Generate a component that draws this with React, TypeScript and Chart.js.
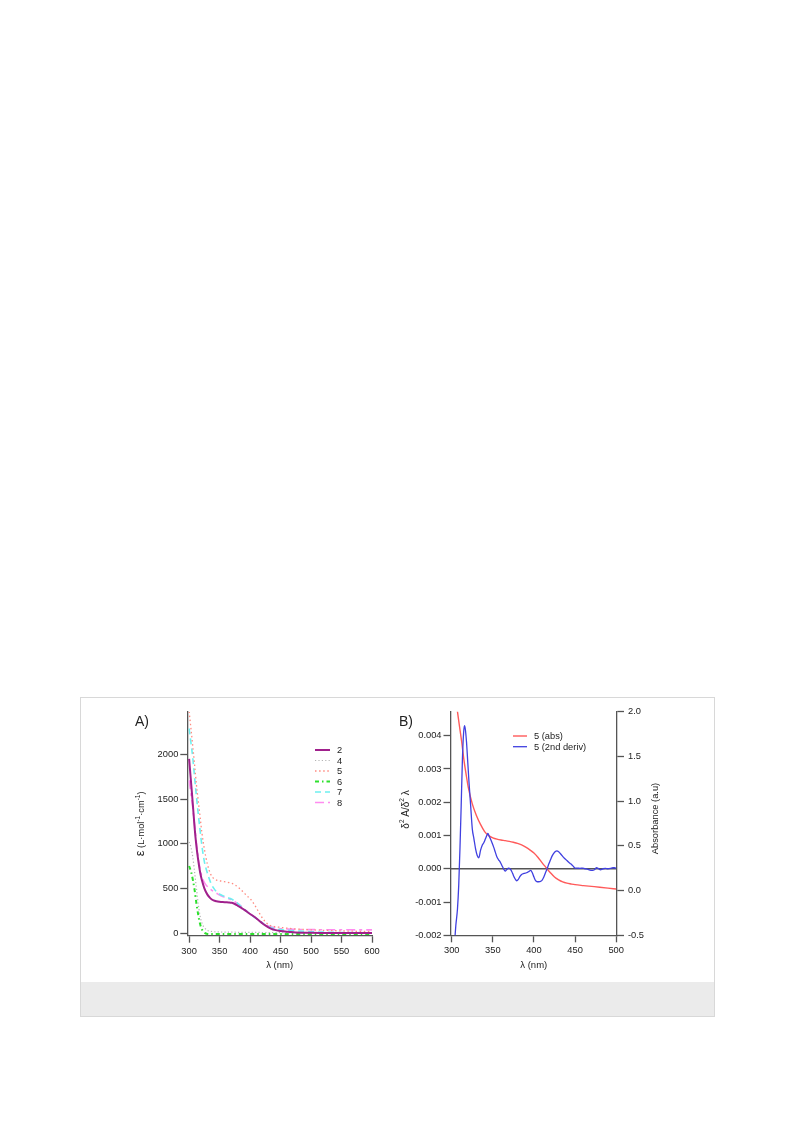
import React, { useEffect, useRef } from 'react';
import { Chart, registerables } from 'chart.js';

Chart.register(...registerables);

const FONT = "'Liberation Sans', Arial, Helvetica, sans-serif";

// ---------- Panel A data ----------
const wavelengthA = [300, 303, 306, 309, 312, 315, 318, 321, 325, 330, 335, 340, 345, 350, 355, 360, 365, 370, 375, 380, 385, 390, 395, 400, 405, 410, 415, 420, 425, 430, 435, 440, 450, 460, 475, 500, 530, 560, 600];
const eps2 = [1950, 1700, 1450, 1180, 970, 810, 680, 590, 500, 430, 388, 365, 355, 350, 347, 345, 343, 338, 325, 305, 285, 262, 238, 213, 190, 165, 138, 110, 86, 64, 47, 35, 22, 14, 7, 2, 0, 0, 0];
const eps4 = [1020, 960, 850, 680, 500, 320, 190, 110, 60, 30, 20, 15, 13, 12, 11, 10, 10, 9, 9, 8, 8, 8, 8, 8, 7, 7, 7, 6, 6, 6, 6, 5, 5, 5, 4, 4, 3, 3, 3];
const eps5 = [2480, 2290, 2090, 1880, 1660, 1480, 1300, 1120, 940, 770, 665, 612, 592, 585, 578, 572, 565, 555, 540, 515, 485, 450, 415, 385, 340, 285, 225, 170, 125, 95, 80, 72, 63, 55, 45, 36, 28, 22, 16];
const eps6 = [750, 690, 600, 480, 330, 200, 100, 40, 5, -10, -12, -12, -12, -12, -12, -12, -12, -12, -12, -12, -12, -12, -12, -12, -12, -12, -12, -12, -12, -12, -12, -11, -11, -11, -11, -10, -10, -10, -10];
const eps7 = [2290, 2130, 1960, 1740, 1530, 1330, 1150, 975, 800, 670, 570, 505, 462, 435, 418, 405, 392, 378, 358, 330, 300, 268, 240, 213, 188, 163, 138, 112, 90, 72, 58, 48, 38, 32, 25, 15, 8, 5, 3];
const eps8 = [1710, 1560, 1400, 1210, 1010, 840, 720, 630, 565, 520, 490, 465, 445, 425, 410, 395, 383, 370, 352, 328, 300, 270, 242, 215, 190, 165, 140, 115, 95, 78, 66, 58, 48, 45, 41, 38, 37, 36, 35];
const seriesLabelsA = ['2', '4', '5', '6', '7', '8'];
const xTicksA = [300, 350, 400, 450, 500, 550, 600];
const yTicksA = [0, 500, 1000, 1500, 2000];

// ---------- Panel B data ----------
const wavelengthAbs = [305, 308, 310, 312, 315, 318, 320, 325, 330, 335, 340, 345, 350, 355, 360, 365, 370, 375, 380, 385, 390, 395, 400, 405, 410, 415, 420, 425, 430, 435, 440, 445, 450, 460, 470, 480, 490, 500];
const abs5 = [2.14, 1.93, 1.8, 1.67, 1.45, 1.27, 1.16, 0.97, 0.84, 0.74, 0.66, 0.615, 0.59, 0.575, 0.565, 0.558, 0.55, 0.54, 0.528, 0.51, 0.485, 0.455, 0.42, 0.37, 0.31, 0.255, 0.2, 0.152, 0.12, 0.097, 0.083, 0.074, 0.066, 0.056, 0.047, 0.038, 0.028, 0.017];
const wavelengthDeriv = [303.5, 305, 307, 308.5, 310, 311.5, 313, 314.5, 315.5, 316.5, 318, 319.5, 321, 323, 325, 327, 329, 331, 333, 335, 337, 339, 341, 343, 344, 345.5, 347, 349, 351, 353, 355, 357, 359, 361, 363, 365, 367, 369, 371, 373, 375, 377, 379, 381, 383, 385, 388, 391, 394, 396, 398, 400, 402, 404, 406, 408, 410, 412, 414, 416, 418, 420, 422, 424, 426, 428, 430, 432, 434, 436, 438, 440, 442, 444, 446, 448, 450, 453, 456, 459, 462, 465, 468, 471, 474, 476, 478, 481, 484, 487, 490, 493, 496, 498, 500];
const deriv5 = [-0.0022, -0.0017, -0.0012, -0.0005, 0.0006, 0.0019, 0.0033, 0.0041, 0.0043, 0.0042, 0.0038, 0.0032, 0.0026, 0.0019, 0.0012, 0.0009, 0.0006, 0.0004, 0.00033, 0.00055, 0.0007, 0.00078, 0.0009, 0.00102, 0.00106, 0.00098, 0.0009, 0.00078, 0.00065, 0.0005, 0.00035, 0.00027, 0.0002, 0.0001, 0.0, -0.00007, -0.00002, 0.00002, 0.0, -0.00008, -0.0002, -0.0003, -0.00036, -0.00032, -0.00023, -0.00017, -0.00014, -0.00012, -0.00008, -0.00005, -0.00012, -0.00025, -0.00036, -0.00039, -0.00039, -0.00038, -0.00034, -0.00025, -0.00012, 0.0, 0.00014, 0.00026, 0.00038, 0.00046, 0.00052, 0.00054, 0.00051, 0.00046, 0.0004, 0.00034, 0.00029, 0.00025, 0.0002, 0.00016, 0.00012, 0.00007, 0.00002, 0.00002, 0.00001, 0.00002, 0.0, -0.00001, -0.00004, -0.00005, -0.00002, 0.00003, 0.00001, -0.00003, 0.0, 0.00001, 0.0, 0.00001, 0.00003, 0.00003, 0.00001];
const seriesLabelsB = ['5 (abs)', '5 (2nd deriv)'];
const xTicksB = [300, 350, 400, 450, 500];
const yTicksBLeft = [-0.002, -0.001, 0, 0.001, 0.002, 0.003, 0.004];
const yTicksBRight = [-0.5, 0, 0.5, 1, 1.5, 2];

// ---------- helpers ----------
type Seg = { t: string; size: number; dy?: number };

function drawRich(ctx: CanvasRenderingContext2D, segs: Seg[], cx: number, cy: number, rot: number, base: number) {
  ctx.save();
  ctx.translate(cx, cy);
  ctx.rotate(rot);
  ctx.textAlign = 'left';
  ctx.textBaseline = 'alphabetic';
  ctx.fillStyle = '#222';
  let total = 0;
  const widths = segs.map((s) => {
    ctx.font = `${s.size}px ${FONT}`;
    const w = ctx.measureText(s.t).width;
    total += w;
    return w;
  });
  let x = -total / 2;
  segs.forEach((s, i) => {
    ctx.font = `${s.size}px ${FONT}`;
    ctx.fillText(s.t, x, base + (s.dy || 0));
    x += widths[i];
  });
  ctx.restore();
}

const axisColor = '#555';

function axisStyle(extra: any) {
  return {
    type: 'linear',
    border: { display: true, color: axisColor, width: 1.3 },
    grid: { display: true, drawOnChartArea: false, drawTicks: true, tickLength: 7, tickColor: axisColor, tickWidth: 1.3 },
    ...extra,
  };
}

function tickFont() {
  return { family: FONT, size: 9.3 };
}

function legendPlugin(labels: string[], x0: number, x1: number, xt: number, top: number, gap: number) {
  return {
    id: 'customLegend',
    afterDatasetsDraw(chart: any) {
      const ctx = chart.ctx as CanvasRenderingContext2D;
      const area = chart.chartArea;
      labels.forEach((lab, i) => {
        const ds = chart.data.datasets[i];
        const y = area.top + top + i * gap;
        ctx.save();
        ctx.strokeStyle = ds.borderColor;
        ctx.lineWidth = ds.borderWidth;
        ctx.setLineDash(ds.borderDash || []);
        ctx.beginPath();
        ctx.moveTo(area.right - x0, y);
        ctx.lineTo(area.right - x1, y);
        ctx.stroke();
        ctx.setLineDash([]);
        ctx.fillStyle = '#222';
        ctx.font = `9.3px ${FONT}`;
        ctx.textAlign = 'left';
        ctx.textBaseline = 'middle';
        ctx.fillText(lab, area.right - xt, y + 0.5);
        ctx.restore();
      });
    },
  };
}

function fixedTicks(values: number[]) {
  return (scale: any) => {
    scale.ticks = values.map((v) => ({ value: v }));
  };
}

// ---------- Panel A ----------
function PanelA() {
  const ref = useRef<HTMLCanvasElement>(null);
  useEffect(() => {
    const mk = (lab: string, vals: number[], color: string, width: number, dash: number[]) => ({
      label: lab,
      data: wavelengthA.map((w, i) => ({ x: w, y: vals[i] })),
      borderColor: color,
      borderWidth: width,
      borderDash: dash,
      pointRadius: 0,
      fill: false,
      cubicInterpolationMode: 'monotone',
      clip: 0,
    });
    const datasets = [
      mk(seriesLabelsA[0], eps2, '#a0208c', 2, []),
      mk(seriesLabelsA[1], eps4, '#b4b4b4', 1.2, [1.2, 2.2]),
      mk(seriesLabelsA[2], eps5, '#ff8a80', 1.3, [1.5, 2.6]),
      mk(seriesLabelsA[3], eps6, '#2ee02e', 2, [4, 3, 1.5, 3]),
      mk(seriesLabelsA[4], eps7, '#6ef0f0', 1.6, [6, 4]),
      mk(seriesLabelsA[5], eps8, '#ff8cf0', 1.6, [9, 4, 3, 4]),
    ];
    const titles = {
      id: 'titlesA',
      afterDraw(chart: any) {
        const ctx = chart.ctx;
        const a = chart.chartArea;
        drawRich(ctx, [
          { t: 'ε', size: 13 },
          { t: ' (L·mol', size: 9.3 },
          { t: '-1', size: 6.5, dy: -4 },
          { t: '·cm', size: 9.3 },
          { t: '-1', size: 6.5, dy: -4 },
          { t: ')', size: 9.3 },
        ], a.left - 47, (a.top + a.bottom) / 2, -Math.PI / 2, 3.5);
        drawRich(ctx, [{ t: 'λ (nm)', size: 9.5 }], (a.left + a.right) / 2, a.bottom + 29, 0, 3.5);
      },
    };
    const chart = new Chart(ref.current!, {
      type: 'line',
      data: { datasets: datasets as any },
      options: {
        responsive: false,
        animation: false,
        events: [],
        layout: { padding: { top: 12, right: 18, left: 0, bottom: 0 } },
        plugins: { legend: { display: false }, tooltip: { enabled: false } },
        scales: {
          x: axisStyle({
            position: 'bottom',
            min: 297,
            max: 600,
            afterBuildTicks: fixedTicks(xTicksA),
            afterFit: (s: any) => { s.height = 44.3; },
            ticks: { color: '#222', font: tickFont(), padding: 3, maxRotation: 0, autoSkip: false, callback: (v: any) => String(v) },
          }),
          y: axisStyle({
            position: 'left',
            min: -30,
            max: 2475,
            afterBuildTicks: fixedTicks(yTicksA),
            afterFit: (s: any) => { s.width = 67.3; },
            ticks: { color: '#222', font: tickFont(), padding: 2, autoSkip: false, callback: (v: any) => String(v) },
          }),
        } as any,
      },
      plugins: [legendPlugin(seriesLabelsA, 57, 42, 35, 38, 10.5), titles],
    });
    return () => chart.destroy();
  }, []);
  return <canvas ref={ref} width={270} height={280} style={{ position: 'absolute', left: 120, top: 700, width: 270, height: 280 }} />;
}

// ---------- Panel B ----------
function PanelB() {
  const ref = useRef<HTMLCanvasElement>(null);
  useEffect(() => {
    const datasets = [
      {
        label: seriesLabelsB[0],
        data: wavelengthAbs.map((w, i) => ({ x: w, y: abs5[i] })),
        yAxisID: 'y2',
        borderColor: '#ff5a5a',
        borderWidth: 1.4,
        borderDash: [],
        pointRadius: 0,
        fill: false,
        cubicInterpolationMode: 'monotone',
        clip: 0,
        order: 2,
      },
      {
        label: seriesLabelsB[1],
        data: wavelengthDeriv.map((w, i) => ({ x: w, y: deriv5[i] })),
        yAxisID: 'y',
        borderColor: '#4040e0',
        borderWidth: 1.3,
        borderDash: [],
        pointRadius: 0,
        fill: false,
        cubicInterpolationMode: 'monotone',
        clip: 0,
        order: 1,
      },
    ];
    const extras = {
      id: 'extrasB',
      beforeDatasetsDraw(chart: any) {
        const ctx = chart.ctx;
        const a = chart.chartArea;
        const y0 = chart.scales.y.getPixelForValue(0);
        ctx.save();
        ctx.strokeStyle = '#555';
        ctx.lineWidth = 1.5;
        ctx.beginPath();
        ctx.moveTo(a.left, y0);
        ctx.lineTo(a.right, y0);
        ctx.stroke();
        ctx.restore();
      },
      afterDraw(chart: any) {
        const ctx = chart.ctx;
        const a = chart.chartArea;
        drawRich(ctx, [
          { t: 'δ', size: 10 },
          { t: '2', size: 6.5, dy: -4.5 },
          { t: ' A/δ', size: 10 },
          { t: '2', size: 6.5, dy: -4.5 },
          { t: ' λ', size: 10 },
        ], a.left - 45.5, (a.top + a.bottom) / 2 - 14, -Math.PI / 2, 3.6);
        drawRich(ctx, [{ t: 'Absorbance (a.u)', size: 9.3 }], a.right + 38, (a.top + a.bottom) / 2 - 5, -Math.PI / 2, 3.4);
        drawRich(ctx, [{ t: 'λ (nm)', size: 9.5 }], (a.left + a.right) / 2, a.bottom + 29, 0, 3.5);
      },
    };
    const chart = new Chart(ref.current!, {
      type: 'line',
      data: { datasets: datasets as any },
      options: {
        responsive: false,
        animation: false,
        events: [],
        layout: { padding: { top: 11.7, right: 0, left: 0, bottom: 0 } },
        plugins: { legend: { display: false }, tooltip: { enabled: false } },
        scales: {
          x: axisStyle({
            position: 'bottom',
            min: 298.5,
            max: 501,
            afterBuildTicks: fixedTicks(xTicksB),
            afterFit: (s: any) => { s.height = 44.7; },
            ticks: { color: '#222', font: tickFont(), padding: 3, maxRotation: 0, autoSkip: false, callback: (v: any) => String(v) },
          }),
          y: axisStyle({
            position: 'left',
            min: -0.002,
            max: 0.00472,
            afterBuildTicks: fixedTicks(yTicksBLeft),
            afterFit: (s: any) => { s.width = 60.5; },
            ticks: { color: '#222', font: tickFont(), padding: 2, autoSkip: false, callback: (v: any) => Number(v).toFixed(3) },
          }),
          y2: axisStyle({
            position: 'right',
            min: -0.5,
            max: 2.0,
            afterBuildTicks: fixedTicks(yTicksBRight),
            afterFit: (s: any) => { s.width = 73; },
            ticks: { color: '#222', font: tickFont(), padding: 4, autoSkip: false, callback: (v: any) => Number(v).toFixed(1) },
          }),
        } as any,
      },
      plugins: [legendPlugin(seriesLabelsB, 104, 90, 83, 24.3, 10.7), extras],
    });
    return () => chart.destroy();
  }, []);
  return <canvas ref={ref} width={300} height={280} style={{ position: 'absolute', left: 390, top: 700, width: 300, height: 280 }} />;
}

export default function App() {
  const label: React.CSSProperties = { position: 'absolute', fontFamily: FONT, fontSize: 14, color: '#222', lineHeight: '16px' };
  return (
    <>
      <div style={{ position: 'absolute', left: 80, top: 697, width: 635, height: 320, boxSizing: 'border-box', border: '1px solid #d8d8d8', background: '#fff' }}>
        <div style={{ position: 'absolute', left: 0, right: 0, bottom: 0, height: 34, background: '#ebebeb' }} />
      </div>
      <PanelA />
      <PanelB />
      <div style={{ ...label, left: 135, top: 713 }}>A)</div>
      <div style={{ ...label, left: 399, top: 713 }}>B)</div>
    </>
  );
}
